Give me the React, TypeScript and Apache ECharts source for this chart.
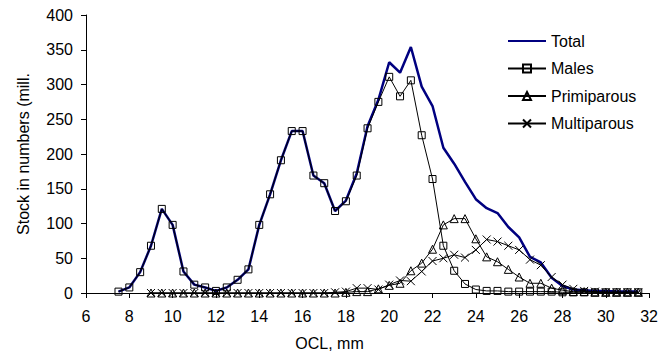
import React, { useEffect, useRef } from "react";
import * as echarts from "echarts";

const maleLengths = [7.5, 8, 8.5, 9, 9.5, 10, 10.5, 11, 11.5, 12, 12.5, 13, 13.5, 14, 14.5, 15, 15.5, 16, 16.5, 17, 17.5, 18, 18.5, 19, 19.5, 20, 20.5, 21, 21.5, 22, 22.5, 23, 23.5, 24, 24.5, 25, 25.5, 26, 26.5, 27, 27.5, 28, 28.5, 29, 29.5, 30, 30.5, 31, 31.5];
const totalValues = [2, 8, 30, 68, 121, 98, 31, 12, 8, 3, 8, 19, 34, 98, 142, 191, 233, 233, 169, 158, 118, 133, 172, 240, 278, 332, 317, 354, 297, 269, 209, 186, 160, 135, 122, 115, 95, 80, 52, 44, 22, 10, 5, 4, 3, 3, 2, 2, 2];
const maleValues = [2, 8, 30, 68, 121, 98, 31, 12, 8, 3, 8, 19, 34, 98, 142, 191, 233, 233, 169, 158, 118, 132, 169, 237, 275, 311, 283, 306, 227, 164, 68, 32, 13, 5, 3, 3, 2, 2, 2, 2, 2, 1, 1, 1, 1, 1, 1, 1, 1];

const femaleLengths = [9, 9.5, 10, 10.5, 11, 11.5, 12, 12.5, 13, 13.5, 14, 14.5, 15, 15.5, 16, 16.5, 17, 17.5, 18, 18.5, 19, 19.5, 20, 20.5, 21, 21.5, 22, 22.5, 23, 23.5, 24, 24.5, 25, 25.5, 26, 26.5, 27, 27.5, 28, 28.5, 29, 29.5, 30, 30.5, 31, 31.5];
const primiparousValues = [0, 0, 0, 0, 0, 0, 0, 0, 0, 0, 0, 0, 0, 0, 0, 0, 0, 0, 1, 2, 2, 6, 11, 14, 32, 43, 63, 98, 107, 107, 78, 52, 45, 34, 23, 14, 14, 7, 4, 2, 2, 1, 1, 1, 1, 1];
const multiparousValues = [0, 0, 0, 0, 0, 0, 0, 0, 0, 0, 0, 0, 0, 0, 0, 0, 0, 1, 2, 7, 7, 5, 12, 18, 17, 31, 46, 50, 55, 51, 62, 77, 74, 68, 62, 48, 40, 23, 12, 6, 3, 2, 1, 1, 1, 1];

const xTickMin = 6;
const xTickMax = 32;
const xTickStep = 2;
const yTickMin = 0;
const yTickMax = 400;
const yTickStep = 50;

const FONT = "'Liberation Sans', Arial, sans-serif";

const pairs = (xs: number[], ys: number[]) => xs.map((x, i) => [x, ys[i]]);

export default function App() {
  const ref = useRef<HTMLDivElement>(null);
  useEffect(() => {
    if (!ref.current) return;
    const chart = echarts.init(ref.current, null, { renderer: "svg" });
    const markerStyle = { color: "transparent", borderColor: "#000", borderWidth: 1 };
    chart.setOption({
      animation: false,
      backgroundColor: "#fff",
      textStyle: { fontFamily: FONT, color: "#000" },
      grid: { left: 86, right: 10.5, top: 15, bottom: 63, containLabel: false },
      legend: {
        orient: "vertical",
        left: 507,
        top: 33,
        padding: 0,
        itemWidth: 38,
        itemHeight: 10,
        itemGap: 11.5,
        textStyle: { fontFamily: FONT, fontSize: 16, color: "#000" },
        data: [
          { name: "Total", itemStyle: { opacity: 0 } },
          { name: "Males" },
          { name: "Primiparous" },
          { name: "Multiparous" },
        ],
      },
      xAxis: {
        type: "value",
        min: xTickMin,
        max: xTickMax,
        interval: xTickStep,
        name: "OCL, mm",
        nameLocation: "middle",
        nameGap: 42,
        nameTextStyle: { fontFamily: FONT, fontSize: 16, color: "#000", padding: [0, 76, 0, 0] },
        axisLine: { lineStyle: { color: "#000", width: 1 } },
        axisTick: { show: true, length: 5, lineStyle: { color: "#000" } },
        axisLabel: { margin: 15, fontFamily: FONT, fontSize: 16, color: "#000" },
        splitLine: { show: false },
      },
      yAxis: {
        type: "value",
        min: yTickMin,
        max: yTickMax,
        interval: yTickStep,
        name: "Stock in numbers (mill.",
        nameLocation: "middle",
        nameGap: 55,
        nameTextStyle: { fontFamily: FONT, fontSize: 16, color: "#000" },
        axisLine: { show: true, lineStyle: { color: "#000", width: 1 } },
        axisTick: { show: true, length: 5, lineStyle: { color: "#000" } },
        axisLabel: { margin: 13, fontFamily: FONT, fontSize: 16, color: "#000" },
        splitLine: { show: false },
      },
      series: [
        {
          name: "Total",
          type: "line",
          data: pairs(maleLengths, totalValues),
          symbol: "none",
          lineStyle: { color: "#000080", width: 2.5 },
          itemStyle: { color: "#000080" },
          z: 2,
        },
        {
          name: "Males",
          type: "line",
          data: pairs(maleLengths, maleValues),
          symbol: "rect",
          symbolSize: 7,
          lineStyle: { color: "#000", width: 1 },
          itemStyle: markerStyle,
          z: 3,
        },
        {
          name: "Primiparous",
          type: "line",
          data: pairs(femaleLengths, primiparousValues),
          symbol: "triangle",
          symbolSize: 8,
          lineStyle: { color: "#000", width: 1 },
          itemStyle: markerStyle,
          z: 3,
        },
        {
          name: "Multiparous",
          type: "line",
          data: pairs(femaleLengths, multiparousValues),
          symbol: "path://M0,0L10,10M10,0L0,10",
          symbolSize: 8,
          lineStyle: { color: "#000", width: 1 },
          itemStyle: markerStyle,
          z: 3,
        },
      ],
    });
    return () => chart.dispose();
  }, []);
  return <div ref={ref} style={{ width: 661, height: 356, position: "fixed", left: 0, top: 0 }} />;
}
